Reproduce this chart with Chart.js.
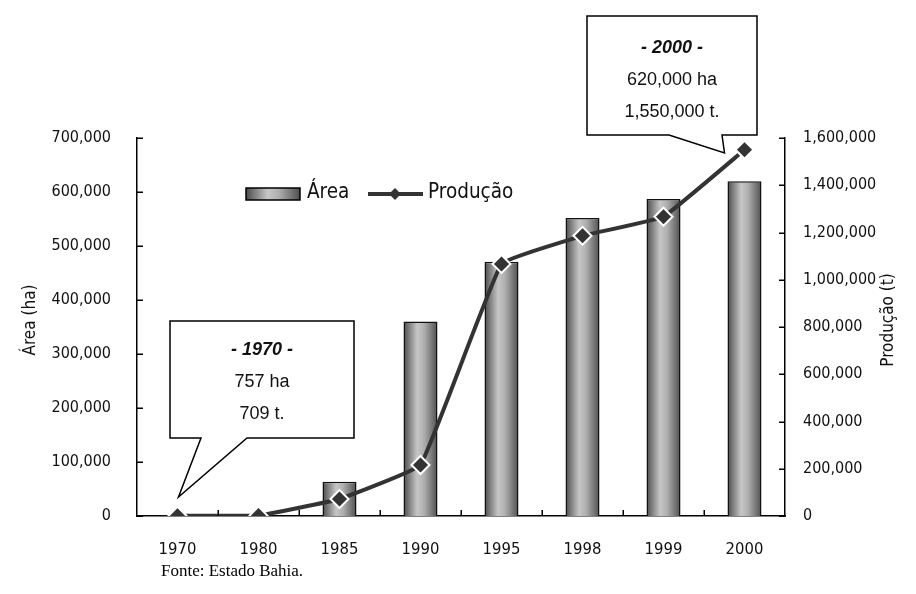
<!DOCTYPE html>
<html>
<head>
<meta charset="utf-8">
<script src="https://cdn.jsdelivr.net/npm/chart.js@4.4.1/dist/chart.umd.min.js"></script>
<style>
  html, body { margin: 0; padding: 0; background: #fff; }
  canvas { display: block; }
</style>
</head>
<body>
<canvas id="c" width="916" height="594"></canvas>
<script>
// Cultivated area (ha) and production (t), Bahia
const years = ['1970', '1980', '1985', '1990', '1995', '1998', '1999', '2000'];
const areaHa = [757, 800, 63500, 360000, 471000, 552000, 587000, 620000];
const producaoT = [709, 1500, 72000, 216000, 1067000, 1186000, 1267000, 1550000];
const areaTicks = { min: 0, max: 700000, step: 100000 };
const prodTicks = { min: 0, max: 1600000, step: 200000 };

const NARROW = '"DejaVu Sans Condensed", "Liberation Sans Narrow", "Arial Narrow", sans-serif';
const SANS = '"Liberation Sans", Arial, sans-serif';
const SERIF = '"Liberation Serif", "Times New Roman", serif';
const fmt = v => Number(v).toLocaleString('en-US');

const BAR_PCT = 0.42;

function cylinder(ctx, x0, x1) {
  const g = ctx.createLinearGradient(x0, 0, x1, 0);
  g.addColorStop(0.0, '#4a4a4a');
  g.addColorStop(0.15, '#7a7a7a');
  g.addColorStop(0.4, '#c6c6c6');
  g.addColorStop(0.6, '#b0b0b0');
  g.addColorStop(0.85, '#747474');
  g.addColorStop(1.0, '#4e4e4e');
  return g;
}

function barFill(context) {
  const chart = context.chart;
  const xs = chart.scales.x;
  if (!chart.chartArea || !xs || context.dataIndex === undefined) return '#999';
  const cx = xs.getPixelForValue(context.dataIndex);
  const w = (xs.width / years.length) * BAR_PCT;
  return cylinder(chart.ctx, cx - w / 2, cx + w / 2);
}

// Inward tick marks, legend, axis titles, call-outs and source line
const decor = {
  id: 'decor',
  afterDraw(chart) {
    const ctx = chart.ctx;
    const ca = chart.chartArea;
    const sx = chart.scales.x, sy = chart.scales.y, sy1 = chart.scales.y1;
    ctx.save();
    ctx.strokeStyle = '#000';
    ctx.lineWidth = 1.5;
    ctx.beginPath();
    sy.ticks.forEach(t => {
      const py = Math.round(sy.getPixelForValue(t.value)) + 0.25;
      ctx.moveTo(ca.left, py); ctx.lineTo(ca.left + 6, py);
    });
    sy1.ticks.forEach(t => {
      const py = Math.round(sy1.getPixelForValue(t.value)) + 0.25;
      ctx.moveTo(ca.right, py); ctx.lineTo(ca.right - 6, py);
    });
    for (let i = 1; i < years.length; i++) {
      const px = Math.round((sx.getPixelForValue(i - 1) + sx.getPixelForValue(i)) / 2) + 0.25;
      ctx.moveTo(px, ca.bottom); ctx.lineTo(px, ca.bottom - 6);
    }
    ctx.stroke();

    // legend
    const barDs = chart.data.datasets[0], lineDs = chart.data.datasets[1];
    ctx.fillStyle = cylinder(ctx, 246, 300);
    ctx.fillRect(246, 188, 54, 12);
    ctx.strokeStyle = '#000';
    ctx.lineWidth = 1.5;
    ctx.strokeRect(246, 188, 54, 12);
    ctx.fillStyle = '#111';
    ctx.font = '20.5px ' + NARROW;
    ctx.textBaseline = 'middle';
    ctx.textAlign = 'left';
    ctx.fillText(barDs.label, 307, 193);
    ctx.strokeStyle = lineDs.borderColor;
    ctx.lineWidth = 4;
    ctx.beginPath(); ctx.moveTo(368, 194); ctx.lineTo(423, 194); ctx.stroke();
    ctx.fillStyle = lineDs.pointBackgroundColor;
    ctx.beginPath();
    ctx.moveTo(395, 188); ctx.lineTo(401, 194); ctx.lineTo(395, 200); ctx.lineTo(389, 194);
    ctx.closePath(); ctx.fill();
    ctx.fillStyle = '#111';
    ctx.fillText(lineDs.label, 428, 193);

    // axis titles, reading upwards
    ctx.font = '17px ' + NARROW;
    ctx.textAlign = 'center';
    [['Área (ha)', 31], ['Produção (t)', 889]].forEach(([txt, x]) => {
      ctx.save();
      ctx.translate(x, 320);
      ctx.rotate(-Math.PI / 2);
      ctx.fillText(txt, 0, 0);
      ctx.restore();
    });

    // call-outs
    function callout(pts, lines, cx, y0) {
      ctx.beginPath();
      ctx.moveTo(pts[0][0], pts[0][1]);
      for (let i = 1; i < pts.length; i++) ctx.lineTo(pts[i][0], pts[i][1]);
      ctx.closePath();
      ctx.fillStyle = '#fff';
      ctx.fill();
      ctx.strokeStyle = '#000';
      ctx.lineWidth = 1.5;
      ctx.stroke();
      ctx.fillStyle = '#111';
      ctx.textAlign = 'center';
      ctx.textBaseline = 'middle';
      lines.forEach((ln, i) => {
        ctx.font = (i === 0 ? 'italic bold ' : '') + '18px ' + SANS;
        ctx.fillText(ln, cx, y0 + i * 32);
      });
    }
    const x70 = sx.getPixelForValue(0), y0 = sy.getPixelForValue(0);
    callout([[170, 321], [354, 321], [354, 438], [247, 438], [x70 + 1, y0 - 19], [201, 438], [170, 438]],
      ['- ' + years[0] + ' -', fmt(areaHa[0]) + ' ha', fmt(producaoT[0]) + ' t.'], 262, 350);
    const x00 = sx.getPixelForValue(years.length - 1);
    callout([[587, 16], [757, 16], [757, 135], [722, 135], [x00 - 20, 153], [669, 135], [587, 135]],
      ['- ' + years[7] + ' -', fmt(areaHa[7]) + ' ha', fmt(producaoT[7]) + ' t.'], 672, 48);

    // source
    ctx.font = '17px ' + SERIF;
    ctx.textAlign = 'left';
    ctx.fillStyle = '#000';
    ctx.fillText('Fonte: Estado Bahia.', 161, 572);
    ctx.restore();
  }
};

new Chart(document.getElementById('c'), {
  data: {
    labels: years,
    datasets: [
      {
        type: 'bar',
        label: 'Área',
        data: areaHa,
        yAxisID: 'y',
        backgroundColor: barFill,
        borderColor: '#111',
        borderWidth: 1.5,
        barPercentage: BAR_PCT,
        categoryPercentage: 1,
        order: 2
      },
      {
        type: 'line',
        label: 'Produção',
        data: producaoT,
        yAxisID: 'y1',
        borderColor: '#333',
        borderWidth: 4,
        tension: 0.08,
        pointStyle: 'rectRot',
        pointRadius: 9,
        pointBackgroundColor: '#333',
        pointBorderColor: '#fff',
        pointBorderWidth: 2,
        order: 1
      }
    ]
  },
  options: {
    responsive: false,
    animation: false,
    layout: { padding: { top: 138, left: 0, right: 0, bottom: 0 } },
    plugins: { legend: { display: false }, tooltip: { enabled: false } },
    scales: {
      x: {
        grid: { display: false, drawTicks: false },
        border: { display: true, color: '#000', width: 1.5 },
        ticks: { color: '#111', font: { family: NARROW, size: 16.5 }, padding: 24, maxRotation: 0 },
        afterFit: s => { s.height = 78; }
      },
      y: {
        position: 'left',
        min: areaTicks.min, max: areaTicks.max,
        grid: { display: false, drawTicks: false },
        border: { display: true, color: '#000', width: 1.5 },
        ticks: { stepSize: areaTicks.step, color: '#111', font: { family: NARROW, size: 16 }, padding: 26, callback: fmt },
        afterFit: s => { s.width = 137; }
      },
      y1: {
        position: 'right',
        min: prodTicks.min, max: prodTicks.max,
        grid: { display: false, drawTicks: false },
        border: { display: true, color: '#000', width: 1.5 },
        ticks: { stepSize: prodTicks.step, color: '#111', font: { family: NARROW, size: 16 }, padding: 18, callback: fmt },
        afterFit: s => { s.width = 131; }
      }
    }
  },
  plugins: [decor]
});
</script>
</body>
</html>
